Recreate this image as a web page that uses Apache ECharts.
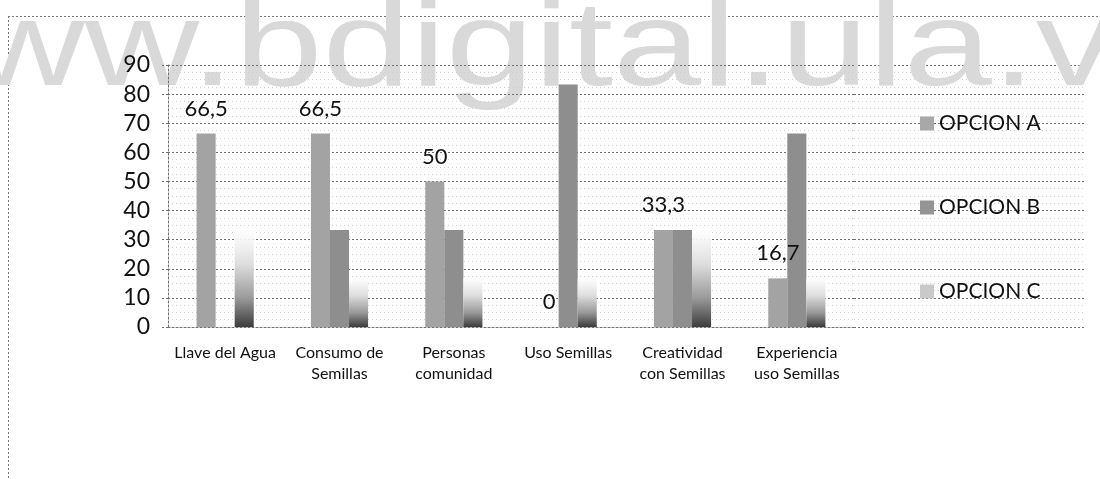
<!DOCTYPE html>
<html>
<head>
<meta charset="utf-8">
<script src="https://cdn.jsdelivr.net/npm/echarts@6/dist/echarts.min.js"></script>
<style>
  html, body { margin: 0; padding: 0; background: #ffffff; }
  #chart { width: 1100px; height: 479px; }
</style>
</head>
<body>
<div id="chart"></div>
<script>
// ---- data ----
const categories = ['Llave del Agua', 'Consumo de\nSemillas', 'Personas\ncomunidad', 'Uso Semillas', 'Creatividad\ncon Semillas', 'Experiencia\nuso Semillas'];
const seriesNames = ['OPCION A', 'OPCION B', 'OPCION C'];
const opcionA = [66.5, 66.5, 50, 0, 33.3, 16.7];
const opcionB = [0, 33.3, 33.3, 83.3, 33.3, 66.5];
const opcionC = [33.3, 16.7, 16.7, 16.7, 33.3, 16.7];
const yTicks = { min: 0, max: 90, interval: 10 };
const watermark = 'www.bdigital.ula.ve';

const chart = echarts.init(document.getElementById('chart'), null, { renderer: 'canvas' });

const FONT = 'Lato, "Open Sans", sans-serif';
const gridLine = { show: true, lineStyle: { color: '#6f6f6f', type: [2, 2], width: 1 } };
const minorLine = { show: true, lineStyle: { color: '#cfcfcf', type: [1, 3], width: 1 } };

const cGradient = new echarts.graphic.LinearGradient(0, 0, 0, 1, [
  { offset: 0, color: 'rgba(255,255,255,0.9)' },
  { offset: 0.35, color: '#dedede' },
  { offset: 0.7, color: '#9a9a9a' },
  { offset: 1, color: '#3c3c3c' }
]);

const option = {
  backgroundColor: '#ffffff',
  animation: false,
  grid: [
    { left: 168, right: 246, top: 65, bottom: 152, containLabel: false },
    { left: 854, right: 15, top: 65, bottom: 152, containLabel: false }
  ],
  legend: {
    orient: 'vertical',
    left: 915,
    top: 108,
    itemWidth: 14,
    itemHeight: 14,
    itemGap: 63,
    icon: 'rect',
    textStyle: { fontFamily: FONT, fontSize: 21, color: '#111' },
    data: [
      { name: seriesNames[0], itemStyle: { color: '#a8a8a8' } },
      { name: seriesNames[1], itemStyle: { color: '#949494' } },
      { name: seriesNames[2], itemStyle: { color: '#c9c9c9' } }
    ]
  },
  xAxis: [
    {
      type: 'category',
      gridIndex: 0,
      data: categories,
      axisLine: { show: true, lineStyle: { color: '#6f6f6f', type: [2, 2] } },
      axisTick: { show: false },
      axisLabel: { fontFamily: FONT, fontSize: 16, color: '#111', lineHeight: 21, margin: 15, interval: 0 }
    },
    {
      type: 'value', gridIndex: 1, min: 0, max: 1, show: false
    }
  ],
  yAxis: [
    {
      type: 'value',
      gridIndex: 0,
      min: yTicks.min, max: yTicks.max, interval: yTicks.interval,
      z: 3,
      axisLine: { show: true, lineStyle: { color: '#6f6f6f', type: [2, 2] } },
      axisTick: { show: true, length: 8, lineStyle: { color: '#6f6f6f', type: [2, 2] } },
      axisLabel: { fontFamily: FONT, fontSize: 23, color: '#111', margin: 18 },
      splitLine: gridLine,
      minorTick: { show: false, splitNumber: 4 },
      minorSplitLine: minorLine
    },
    {
      type: 'value',
      gridIndex: 1,
      min: yTicks.min, max: yTicks.max, interval: yTicks.interval,
      axisLine: { show: false },
      axisTick: { show: false },
      axisLabel: { show: false },
      splitLine: gridLine,
      minorTick: { show: false, splitNumber: 4 },
      minorSplitLine: minorLine
    }
  ],
  series: [
    {
      name: seriesNames[0], type: 'bar', data: opcionA,
      barGap: '0%', barCategoryGap: '50%',
      itemStyle: { color: '#a3a3a3' },
      label: {
        show: true, position: 'top', distance: 14,
        fontFamily: FONT, fontSize: 22, color: '#111',
        formatter: p => String(p.value).replace('.', ',')
      },
      z: 4
    },
    {
      name: seriesNames[1], type: 'bar', data: opcionB,
      barGap: '0%', barCategoryGap: '50%',
      itemStyle: { color: '#8e8e8e' },
      z: 4
    },
    {
      name: seriesNames[2], type: 'bar', data: opcionC,
      barGap: '0%', barCategoryGap: '50%',
      itemStyle: { color: cGradient },
      z: 4
    }
  ],
  graphic: [
    {
      type: 'line', z: 0,
      shape: { x1: 8.5, y1: 16, x2: 8.5, y2: 479 },
      style: { stroke: '#777', lineWidth: 1, lineDash: [2, 2] }
    },
    {
      type: 'line', z: 0,
      shape: { x1: 8, y1: 16.5, x2: 1100, y2: 16.5 },
      style: { stroke: '#777', lineWidth: 1, lineDash: [2, 2] }
    },
    {
      type: 'text', z: 1,
      x: -144, y: -8,
      scaleX: 1.32, scaleY: 1,
      style: {
        text: watermark,
        fontFamily: '"Liberation Sans", Arial, sans-serif',
        fontSize: 120,
        fill: '#d9d9d9',
        verticalAlign: 'top',
        align: 'left'
      }
    }
  ]
};

chart.setOption(option);
</script>
</body>
</html>
